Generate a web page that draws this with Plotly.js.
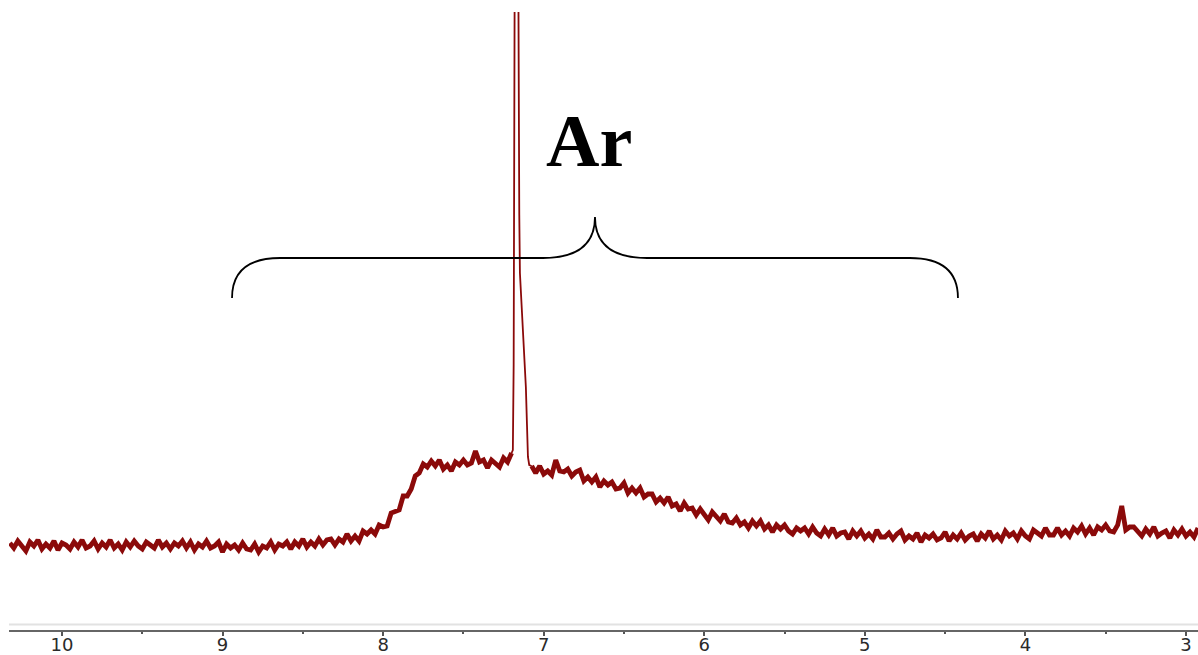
<!DOCTYPE html>
<html>
<head>
<meta charset="utf-8">
<script src="https://cdn.plot.ly/plotly-3.0.1.min.js"></script>
<style>
  html, body { margin: 0; padding: 0; background: #fff; }
  #plot { width: 1198px; height: 655px; }
</style>
</head>
<body>
<div id="plot"></div>
<script>
// 1H NMR spectrum: chemical shift axis (ppm) and measured intensity.
// Regular grid of the spectrum, from 10.325 ppm down to 2.925 ppm.
const gridStartPpm = 10.325;
const gridStepPpm = 0.025;

// Intensity on the regular grid, in blocks of 0.5 ppm (null = covered by the sharp peak below).
const intensity_10_3_to_9_85 = [2,-3,4,-2,-6,3,-1,5,-4,1,-3,4,-5,2,0,-4,3,-2,5,-3];
const intensity_9_8_to_9_35  = [-1,4,-4,2,-2,5,-3,1,-5,3,-2,4,-1,-4,3,0,-3,5,-2,2];
const intensity_9_3_to_8_85  = [-4,2,-1,4,-3,3,-5,1,-2,4,-3,-1,3,-7,1,-3,0,-5,2,-4];
const intensity_8_8_to_8_35  = [-5,1,-7,-1,-3,3,-5,1,-1,3,-4,3,-1,6,-2,3,-1,6,0,5];
const intensity_8_3_to_7_85  = [6,0,6,3,11,4,9,4,14,11,15,11,20,18,19,32,33,35,49,49];
const intensity_7_8_to_7_35  = [56,69,72,81,78,84,79,85,76,80,74,83,80,85,80,82,94,83,85,77];
const intensity_7_3_to_6_85  = [85,82,78,87,83,92,null,null,null,null,79,72,79,71,74,70,85,74,73,76];
const intensity_6_8_to_6_35  = [69,73,75,64,68,63,68,58,64,60,63,56,57,62,52,57,52,57,48,51];
const intensity_6_3_to_5_85  = [51,43,47,42,48,39,41,34,42,36,37,30,36,30,25,33,28,24,31,23];
const intensity_5_8_to_5_35  = [22,27,20,23,17,24,19,24,16,20,13,20,16,20,14,11,17,14,17,11];
const intensity_5_3_to_4_85  = [18,12,9,16,10,17,9,12,13,6,14,9,14,7,11,6,15,8,8,12];
const intensity_4_8_to_4_35  = [6,11,14,5,9,6,12,3,10,7,11,5,7,13,4,10,6,12,5,9];
const intensity_4_3_to_3_85  = [11,4,11,7,14,6,10,5,14,9,12,6,14,9,6,15,12,9,17,10];
const intensity_3_8_to_3_35  = [10,17,10,14,9,17,13,19,11,17,10,18,15,20,14,13,20,39,15,18];
const intensity_3_3_to_2_925 = [18,13,9,16,11,18,9,12,14,7,15,10,16,9,13,8,17];

// Sharp aromatic singlet near 7.17 ppm (solvent residual), sampled more finely.
const peakPpm = [7.200,7.192,7.187,7.183,7.179,7.172,7.166,7.161,7.157,7.152,7.148,7.142,7.136,7.129,7.123,7.117,7.111,7.104,7.098,7.090,7.075];
const peakIntensity = [92,95,180,380,700,1100,900,600,420,330,272,255,240,220,200,180,158,120,88,80,79];

// Axis ticks
const tickValues = [10,9,8,7,6,5,4,3];
const tickLabels = ['10','9','8','7','6','5','4','3'];

// Group label and brace span (ppm)
const groupLabel = 'Ar';
const braceFromPpm = 8.941;
const braceToPpm = 4.420;

// ---- assemble the spectrum ----
const gridIntensity = [].concat(
  intensity_10_3_to_9_85, intensity_9_8_to_9_35, intensity_9_3_to_8_85, intensity_8_8_to_8_35,
  intensity_8_3_to_7_85, intensity_7_8_to_7_35, intensity_7_3_to_6_85, intensity_6_8_to_6_35,
  intensity_6_3_to_5_85, intensity_5_8_to_5_35, intensity_5_3_to_4_85, intensity_4_8_to_4_35,
  intensity_4_3_to_3_85, intensity_3_8_to_3_35, intensity_3_3_to_2_925
);
const gridPpm = gridIntensity.map((v, i) => +(gridStartPpm - i * gridStepPpm).toFixed(4));

// brace geometry in data units
const braceMid = (braceFromPpm + braceToPpm) / 2;
const braceEnd = 247, braceBar = 287, braceTip = 328, braceCurl = 0.30;
const bracePath =
  `M ${braceFromPpm},${braceEnd} Q ${braceFromPpm},${braceBar} ${braceFromPpm - braceCurl},${braceBar} ` +
  `L ${braceMid + 0.324},${braceBar} Q ${braceMid},${braceBar} ${braceMid},${braceTip} ` +
  `Q ${braceMid},${braceBar} ${braceMid - 0.324},${braceBar} ` +
  `L ${braceToPpm + braceCurl},${braceBar} Q ${braceToPpm},${braceBar} ${braceToPpm},${braceEnd}`;

// broad noisy envelope drawn heavy (gap left at the singlet), singlet drawn with a finer pen
const bandTrace = {
  x: gridPpm,
  y: gridIntensity,
  type: 'scatter',
  mode: 'lines',
  connectgaps: false,
  line: { color: '#8b0a0a', width: 4.8 },
  hoverinfo: 'x+y'
};
const peakTrace = {
  x: peakPpm,
  y: peakIntensity,
  type: 'scatter',
  mode: 'lines',
  line: { color: '#8b0a0a', width: 1.8 },
  hoverinfo: 'x+y'
};

const layout = {
  width: 1198,
  height: 655,
  margin: { l: 9, r: 0, t: 12, b: 25 },
  paper_bgcolor: '#ffffff',
  plot_bgcolor: '#ffffff',
  showlegend: false,
  xaxis: {
    range: [10.33, 2.925],
    tickvals: tickValues,
    ticktext: tickLabels,
    ticks: 'outside',
    ticklen: 4,
    tickwidth: 2,
    tickcolor: '#555',
    minor: { dtick: 0.5, ticks: 'outside', ticklen: 2, tickwidth: 2, tickcolor: '#555', showgrid: false },
    showline: true,
    linecolor: '#666',
    linewidth: 1.5,
    showgrid: false,
    zeroline: false,
    ticklabelstandoff: -6,
    tickfont: { family: 'DejaVu Sans', size: 18, color: '#2a2a2a' }
  },
  yaxis: {
    range: [-85, 533],
    visible: false,
    fixedrange: true
  },
  shapes: [
    {
      type: 'path', xref: 'x', yref: 'y', path: bracePath,
      line: { color: '#000', width: 1.8 }
    },
    {
      type: 'line', xref: 'paper', yref: 'paper', x0: 0, x1: 1, y0: 0.009, y1: 0.009,
      line: { color: '#e2e2e2', width: 2 }
    }
  ],
  annotations: [
    {
      x: braceMid + 0.04, y: 404, xref: 'x', yref: 'y',
      text: '<b>' + groupLabel + '</b>',
      showarrow: false,
      xanchor: 'center', yanchor: 'middle',
      font: { family: 'Liberation Serif', size: 74, color: '#000' }
    }
  ]
};

Plotly.newPlot('plot', [bandTrace, peakTrace], layout, { staticPlot: true, displayModeBar: false });
</script>
</body>
</html>
